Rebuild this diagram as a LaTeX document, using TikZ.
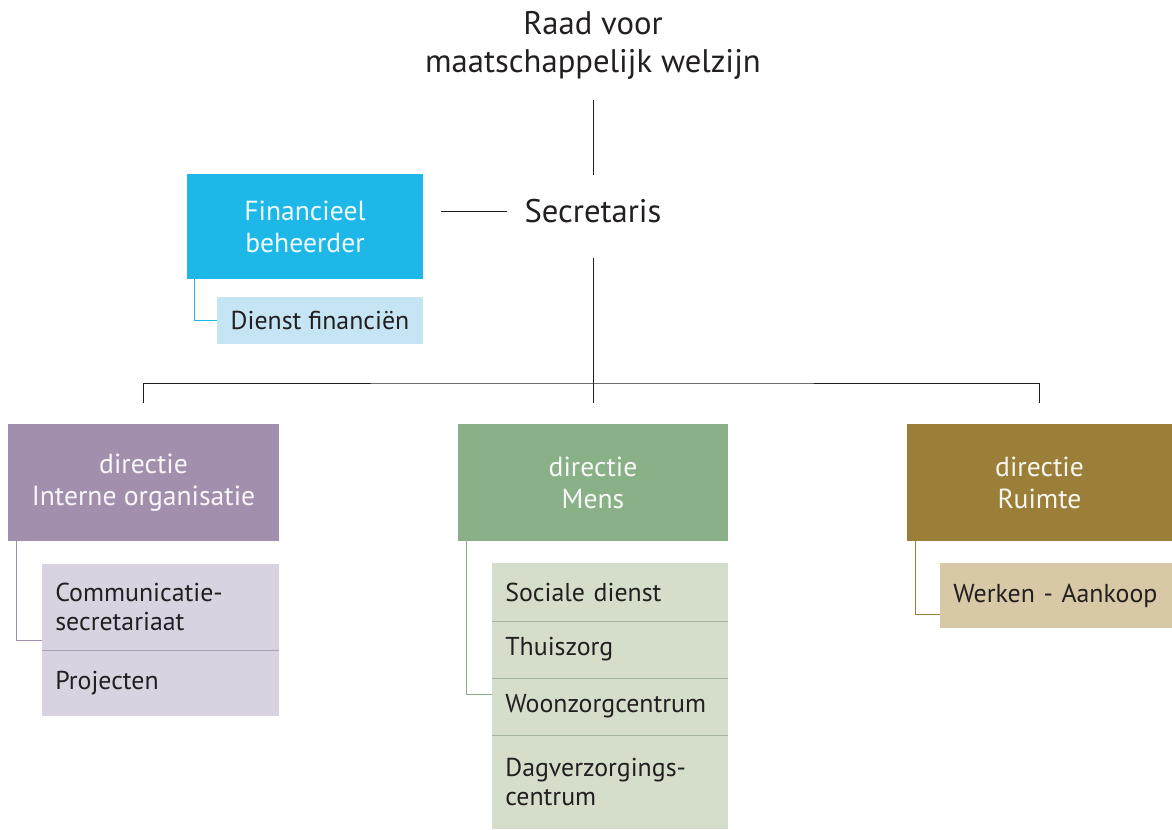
\documentclass[tikz,border=0pt]{standalone}
\usepackage{fontspec}
\setmainfont{PT Sans}
\definecolor{ink}{HTML}{231F20}
\definecolor{cyanH}{HTML}{1DB8E7}
\definecolor{cyanL}{HTML}{C5E5F5}
\definecolor{purpH}{HTML}{A28FAD}
\definecolor{purpL}{HTML}{D9D3E1}
\definecolor{purpS}{HTML}{ABA0B8}
\definecolor{greenH}{HTML}{8AB087}
\definecolor{greenL}{HTML}{D4DECA}
\definecolor{greenS}{HTML}{A3B69A}
\definecolor{brownH}{HTML}{9B7F38}
\definecolor{brownL}{HTML}{D7C9A6}
\hyphenpenalty=10000
\begin{document}
\begin{tikzpicture}[x=0.75pt,y=-0.75pt,
  line/.style={draw=ink, line width=0.75pt},
  conn/.style={line width=0.75pt},
  big/.style={inner sep=0pt, align=center, text=ink, font=\fontsize{24.5}{28.5}\selectfont},
  hdr/.style={inner sep=0pt, align=center, font=\fontsize{20.7}{24}\selectfont},
  rowbox/.style={inner xsep=10pt, inner ysep=0pt, align=left, text=ink, font=\fontsize{19.4}{21.75}\selectfont},
]
\useasboundingbox (0,0) rectangle (1172,829);

% top
\node[big] (title) at (593,45) {Raad voor\\maatschappelijk welzijn};
\node[big] (sec) at (593,211) {Secretaris};

% financieel
\node[hdr, fill=cyanH, text=white!92!cyanH, minimum width=177pt, minimum height=78.75pt] (fin) at (305,226.5) {Financieel\\beheerder};
\node[rowbox, inner xsep=0pt, align=center, fill=cyanL, minimum width=154.5pt, minimum height=35.25pt] (df) at (320,320.5) {Dienst financiën};

% directies
\node[hdr, fill=purpH, text=white!92!purpH, minimum width=203.25pt, minimum height=87.75pt] (dio) at (143.5,482.5) {directie\\Interne organisatie};
\node[hdr, fill=greenH, text=white!92!greenH, minimum width=202.5pt, minimum height=87.75pt] (dm) at (593,482.5) {directie\\Mens};
\node[hdr, fill=brownH, text=white!92!brownH, minimum width=198.75pt, minimum height=87.75pt] (dr) at (1039.5,482.5) {directie\\Ruimte};

% left rows
\node[rowbox, fill=purpL, text width=157.75pt, minimum height=64.5pt] (l1) at (160.5,607) {Communicatie-\\secretariaat};
\node[rowbox, fill=purpL, text width=157.75pt, minimum height=49.5pt] (l2) at (160.5,683) {Projecten};
\draw[conn, draw=purpS] (l1.south west) -- (l1.south east);

% mid rows
\node[rowbox, fill=greenL, text width=157pt, minimum height=43.5pt] (m1) at (610,592) {Sociale dienst};
\node[rowbox, fill=greenL, text width=157pt, minimum height=42.75pt] (m2) at (610,649.5) {Thuiszorg};
\node[rowbox, fill=greenL, text width=157pt, minimum height=42.75pt] (m3) at (610,706.5) {Woonzorgcentrum};
\node[rowbox, fill=greenL, text width=157pt, minimum height=70.5pt] (m4) at (610,782) {Dagverzorgings-\\centrum};
\draw[conn, draw=greenS] (m1.south west) -- (m1.south east);
\draw[conn, draw=greenS] (m2.south west) -- (m2.south east);
\draw[conn, draw=greenS] (m3.south west) -- (m3.south east);

% right rows
\node[rowbox, fill=brownL, text width=154pt, minimum height=48.75pt] (r1) at (1056,595.5) {Werken - Aankoop};

% main connectors
\coordinate (bar) at (593,383);
\draw[line, shorten <=41.25pt, shorten >=27pt] (title.center) -- (sec.center);
\draw[line, shorten <=64.5pt, shorten >=13.5pt] (sec.center) -- (sec.center -| fin.east);
\draw[line, shorten <=35.25pt, shorten >=15.75pt] (sec.center) -- (dm.north);
\draw[line, shorten <=15.75pt, shorten >=15.75pt] (dio.north) |- (bar) -| (dr.north);

% sub connectors
\draw[conn, draw=cyanH] ([xshift=6pt]fin.south west) |- (df.west);
\draw[conn, draw=purpH] ([xshift=6.75pt]dio.south west) |- ([yshift=7.5pt]l1.south west);
\draw[conn, draw=greenH] ([xshift=6.75pt]dm.south west) |- ([yshift=-12.75pt]m3.north west);
\draw[conn, draw=brownH] ([xshift=6.75pt]dr.south west) |- ([yshift=10.5pt]r1.south west);
\end{tikzpicture}
\end{document}
